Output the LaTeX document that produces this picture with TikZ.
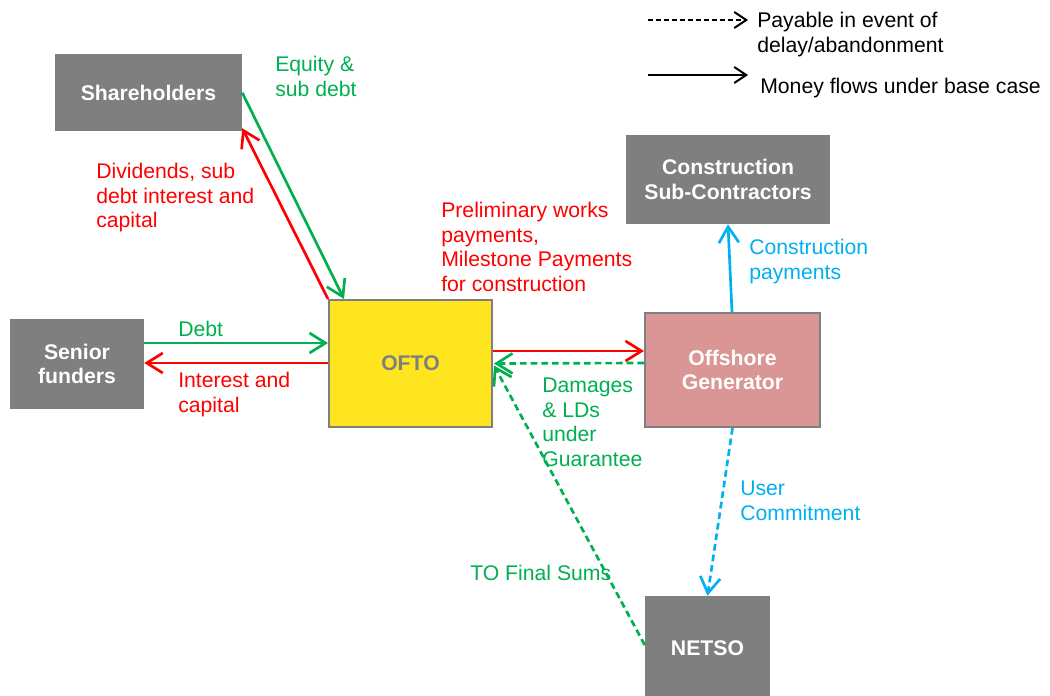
\documentclass[tikz,border=0pt]{standalone}
\usepackage{fontspec}
\setmainfont{Liberation Sans}
\usetikzlibrary{arrows.meta,calc}

\definecolor{flowgreen}{HTML}{00B050}
\definecolor{flowred}{HTML}{FF0000}
\definecolor{flowcyan}{HTML}{00B0F0}
\definecolor{boxgray}{HTML}{7F7F7F}
\definecolor{oftoyellow}{HTML}{FFE51F}
\definecolor{genpink}{HTML}{D99694}

\tikzset{
  party/.style={rectangle, fill=boxgray, text=white, align=center, inner sep=0pt,
    font=\bfseries\fontsize{15.9}{18.4}\selectfont},
  flow/.style={line width=2pt, -{Straight Barb[length=12pt,width=15pt,line width=2pt]}},
  maybeflow/.style={flow, dash pattern=on 5pt off 3pt},
  keyflow/.style={line width=1.5pt, -{Straight Barb[length=9pt,width=12pt,line width=1.5pt]}},
  lbl/.style={anchor=north west, inner sep=0pt, align=left,
    font=\fontsize{15.9}{18.4}\selectfont},
}

\begin{document}
\begin{tikzpicture}[x=0.75pt,y=0.75pt,yscale=-1,xscale=1]
        \useasboundingbox (0,0) rectangle (1050,696);

        %Shape: Rectangle [id:shareholders]
        \node[party, minimum width=140.25pt, minimum height=57.75pt] (shareholders) at (148.5,92.5) {Shareholders};
        %Shape: Rectangle [id:senior]
        \node[party, minimum width=100.5pt, minimum height=67.5pt] (senior) at (77,364) {Senior\\funders};
        %Shape: Rectangle [id:ofto]
        \node[party, fill=oftoyellow, draw=boxgray, line width=1.5pt, text=boxgray, minimum width=122.25pt, minimum height=95.25pt] (ofto) at (410.5,363.5) {OFTO};
        %Shape: Rectangle [id:offshore]
        \node[party, fill=genpink, draw=boxgray, line width=1.5pt, minimum width=131.25pt, minimum height=85.5pt] (offshore) at (732.5,370) {Offshore\\Generator};
        %Shape: Rectangle [id:construction]
        \node[party, minimum width=153pt, minimum height=66.75pt] (construction) at (728,179.5) {Construction\\Sub-Contractors};
        %Shape: Rectangle [id:netso]
        \node[party, minimum width=93.75pt, minimum height=78pt] (netso) at (707.5,648) {NETSO};

        %Straight Lines [id:equity]
        \draw[flow, flowgreen] ($(shareholders.north east)+(0,39)$) -- ($(ofto.north west)+(16,0)$);
        %Straight Lines [id:dividends]
        \draw[flow, flowred] (ofto.north west) -- ($(shareholders.south east)+(0,-3)$);
        %Straight Lines [id:debt]
        \draw[flow, flowgreen] ($(senior.east)+(0,-21)$) -- ($(ofto.west)+(0,-20.5)$);
        %Straight Lines [id:interest]
        \draw[flow, flowred] ($(ofto.west)+(0,-0.5)$) -- ($(senior.east)+(0,-1)$);
        %Straight Lines [id:preliminary]
        \draw[flow, flowred] ($(ofto.east)+(0,-12.5)$) -- ($(offshore.west)+(0,-19)$);
        %Straight Lines [id:damages]
        \draw[maybeflow, flowgreen] ($(offshore.west)+(0,-7)$) -- ($(ofto.east)+(1,0)$);
        %Straight Lines [id:finalsums]
        \draw[maybeflow, flowgreen] ($(netso.west)+(0,-3)$) -- ($(ofto.east)+(1,2)$);
        %Straight Lines [id:conpay]
        \draw[flow, flowcyan] ($(offshore.north)+(-0.5,0)$) -- (construction.south);
        %Straight Lines [id:usercommit]
        \draw[maybeflow, flowcyan] (offshore.south) -- (netso.north);

        %Legend
        \coordinate (paystart) at (648,20);
        \coordinate (payend) at (748,20);
        \coordinate (basestart) at (648,75);
        \coordinate (baseend) at (748,75);
        \draw[keyflow, dash pattern=on 3.5pt off 2.5pt] (paystart) -- (payend);
        \draw[keyflow] (basestart) -- (baseend);

        % Text Node
        \node[lbl] (paytext) at (757,12) {Payable in event of\\delay/abandonment};
        % Text Node
        \node[lbl] (basetext) at (760,78) {Money flows under base case};
        % Text Node
        \node[lbl, flowgreen] (equitytext) at (275,56) {Equity \&\\sub debt};
        % Text Node
        \node[lbl, flowred] (dividendtext) at (96,163) {Dividends, sub\\debt interest and\\capital};
        % Text Node
        \node[lbl, flowred] (prelimtext) at (441,202) {Preliminary works\\payments,\\Milestone Payments\\for construction};
        % Text Node
        \node[lbl, flowcyan] (conpaytext) at (749,239) {Construction\\payments};
        % Text Node
        \node[lbl, flowgreen] (debttext) at (178,321) {Debt};
        % Text Node
        \node[lbl, flowred] (interesttext) at (178,372) {Interest and\\capital};
        % Text Node
        \node[lbl, flowgreen] (damagetext) at (542,378) {Damages\\\& LDs\\under\\Guarantee};
        % Text Node
        \node[lbl, flowcyan] (usertext) at (740,481) {User\\Commitment};
        % Text Node
        \node[lbl, flowgreen] (finaltext) at (470,565) {TO Final Sums};

\end{tikzpicture}
\end{document}
